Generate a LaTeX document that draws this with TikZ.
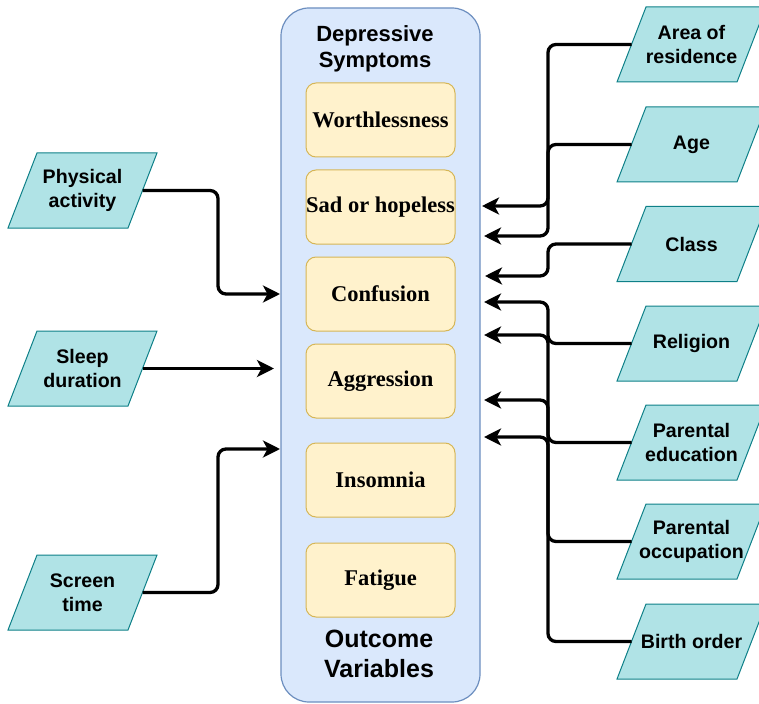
\documentclass[tikz,border=0pt]{standalone}
\usepackage{fontspec}
\setmainfont{Liberation Serif}
\newfontfamily\lsans{Liberation Sans}
\usetikzlibrary{arrows.meta,calc}
\definecolor{contfill}{HTML}{DAE8FC}
\definecolor{contdraw}{HTML}{6C8EBF}
\definecolor{symfill}{HTML}{FFF2CC}
\definecolor{symdraw}{HTML}{D6B656}
\definecolor{parfill}{HTML}{B0E3E6}
\definecolor{pardraw}{HTML}{0E8088}
\tikzset{
  container/.style={draw=contdraw, fill=contfill, line width=1.2pt, rounded corners=28pt,
    minimum width=199pt, minimum height=694pt, inner sep=0pt},
  sym/.style={draw=symdraw, fill=symfill, line width=1pt, rounded corners=10pt,
    minimum width=149pt, minimum height=74pt, inner sep=0pt,
    font=\fontsize{22.5}{26}\selectfont\bfseries},
  titletext/.style={align=center, inner sep=0pt, font=\lsans\bfseries\fontsize{22}{26}\selectfont},
  outtext/.style={align=center, inner sep=0pt, font=\lsans\bfseries\fontsize{25}{30}\selectfont},
  parashape/.style={draw=pardraw, fill=parfill, line width=1pt},
  paratext/.style={align=center, inner sep=0pt, font=\lsans\bfseries\fontsize{19.6}{23.5}\selectfont},
  conn/.style={draw=black, line width=3.3pt, rounded corners=8pt,
    -{Stealth[length=17pt, width=17pt, inset=4.5pt]}},
}
\newcommand\parabox[4]{%
  \filldraw[parashape] (#2-74.5,#3+37.5) -- (#2-45.5,#3-37.5) -- (#2+74.5,#3-37.5) -- (#2+45.5,#3+37.5) -- cycle;
  \node[paratext] (#1) at (#2,#3) {#4};
  \coordinate (#1-w) at (#2-60,#3);
  \coordinate (#1-e) at (#2+60,#3);
}
\begin{document}
\begin{tikzpicture}[x=1pt,y=-1pt]
\useasboundingbox (0,0) rectangle (759,703);
\clip (0,0) rectangle (759,703);
% container
\node[container] (dep) at (380.5,355) {};
\node[titletext] (title) at (375,48.5) {Depressive\\Symptoms};
\node[outtext] (outc) at (379,654) {Outcome\\Variables};
% symptoms
\node[sym] (s1) at (380.5,120) {Worthlessness};
\node[sym] (s2) at (380.5,207) {Sad or hopeless};
\node[sym] (s3) at (380.5,294) {Confusion};
\node[sym] (s4) at (380.5,381) {Aggression};
\node[sym] (s5) at (380.5,480) {Insomnia};
\node[sym] (s6) at (380.5,580) {Fatigue};
% left inputs
\parabox{pa}{82.5}{190.5}{Physical\\activity}
\parabox{sd}{82.5}{368.5}{Sleep\\duration}
\parabox{st}{82.5}{592.5}{Screen\\time}
% right inputs
\parabox{ar}{691.5}{44.5}{Area of\\residence}
\parabox{ag}{691.5}{144.5}{Age}
\parabox{cl}{691.5}{244}{Class}
\parabox{re}{691.5}{343.5}{Religion}
\parabox{pe}{691.5}{442.5}{Parental\\education}
\parabox{po}{691.5}{541.5}{Parental\\occupation}
\parabox{bo}{691.5}{641.5}{Birth order}
% bus coordinates
\coordinate (lbus) at (218,0);
\coordinate (rbus) at (548,0);
% tips
\coordinate (tpa) at (280,294);
\coordinate (tsd) at (274,368.5);
\coordinate (tst) at (280,449);
\coordinate (tag) at (482,206);
\coordinate (tar) at (484,236);
\coordinate (tcl) at (485,276);
\coordinate (tre) at (484,302);
\coordinate (tpe) at (484,335);
\coordinate (tpo) at (484,400);
\coordinate (tbo) at (484,437);
% left connectors
\draw[conn] (pa-e) -| (tpa -| lbus) -- (tpa);
\draw[conn] (sd-e) -- (tsd);
\draw[conn] (st-e) -| (tst -| lbus) -- (tst);
% right connectors
\draw[conn] (ar-w) -| (tar -| rbus) -- (tar);
\draw[conn] (ag-w) -| (tag -| rbus) -- (tag);
\draw[conn] (cl-w) -| (tcl -| rbus) -- (tcl);
\draw[conn] (re-w) -| (tre -| rbus) -- (tre);
\draw[conn] (pe-w) -| (tpe -| rbus) -- (tpe);
\draw[conn] (po-w) -| (tpo -| rbus) -- (tpo);
\draw[conn] (bo-w) -| (tbo -| rbus) -- (tbo);
\end{tikzpicture}
\end{document}
